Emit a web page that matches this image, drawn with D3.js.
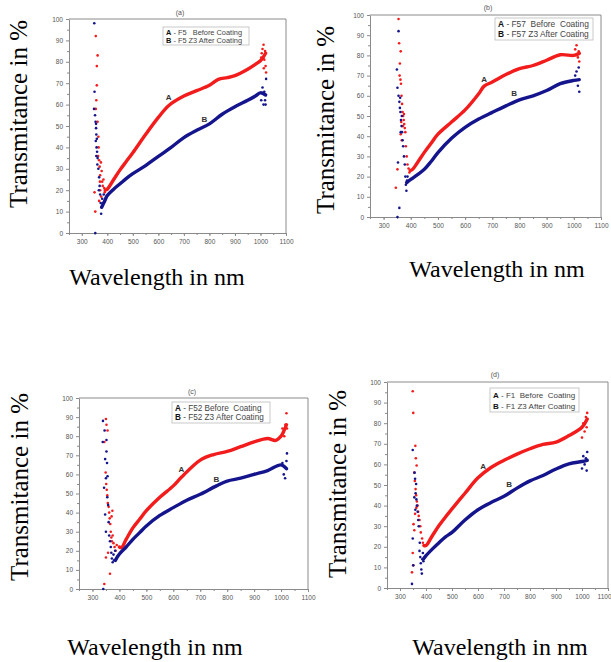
<!DOCTYPE html>
<html><head><meta charset="utf-8">
<script src="https://cdn.jsdelivr.net/npm/d3@7"></script>
<style>body{margin:0;background:#fff}svg{display:block}</style>
</head><body>
<svg id="c" width="611" height="662"></svg>
<script>
// ---------- DATA ----------
const xTicks = [300,400,500,600,700,800,900,1000,1100];
const yTicks = [0,10,20,30,40,50,60,70,80,90,100];
const panelLabels = ["(a)","(b)","(c)","(d)"];
const legendA = ["A - F5   Before Coating","A - F57  Before  Coating","A - F52 Before  Coating","A - F1  Before  Coating"];
const legendB = ["B - F5 Z3 After Coating","B - F57 Z3 After Coating","B - F52 Z3 After Coating","B - F1 Z3 After Coating"];
const yTitle = "Transmitance in %";
const xTitle = "Wavelength in nm";

// Panel (a)
const a_redCurve = [[392,20],[400,20.5],[425,25],[450,29.5],[475,33.5],[500,37.5],[550,46],[600,54],[640,59.5],[700,64],[750,66.5],[800,69],[835,71.8],[870,72.6],[900,73.5],[950,76.5],[980,78.8],[1000,80.5],[1010,82],[1020,84]];
const a_blueCurve = [[378,12],[390,15],[400,17.5],[425,20.5],[450,23],[475,25.5],[500,27.7],[550,31.5],[600,35.8],[650,40],[700,44.6],[750,48],[800,51],[850,55.5],[900,59],[950,62],[980,64],[1000,65.5],[1020,64.5]];
const a_redDots = [[355,92],[362,83],[359,78],[359,69],[357,62],[355,58],[350,19],[353,10],[362,52],[365,45],[366,40],[368,34],[370,31],[372,27],[375,33],[378,29],[380,24],[382,22],[385,25],[388,21],[390,19],[372,20],[368,15],[376,17],[364,36],[371,24],[1005,84],[1008,86],[1012,88],[1015,81],[1018,85],[1013,77],[1020,78],[1022,75],[1003,82]];
const a_blueDots = [[349,98],[350,66],[348,58],[352,55],[354,52],[356,49],[357,46],[355,43],[358,40],[360,38],[357,36],[362,35],[365,30],[368,26],[370,22],[372,18],[374,14],[376,9],[378,12],[380,16],[383,14],[386,18],[389,15],[392,16],[353,0],[356,51],[359,44],[361,32],[367,20],[1003,62],[1008,68],[1012,60],[1015,66],[1018,62],[1022,72],[1020,60]];

// Panel (b)
const b_redCurve = [[398,23],[406,23.5],[425,27],[450,32],[475,36.5],[500,41],[550,47],[600,53],[650,61],[670,64.8],[700,66.8],[750,70.5],[800,73.4],[850,75],[900,77.6],[950,80.3],[1000,80],[1020,81]];
const b_blueCurve = [[385,17],[400,18.6],[425,21],[450,23.6],[475,27.5],[500,31.9],[550,39],[600,44.4],[650,48.5],[700,51.8],[750,55],[800,58],[850,60],[900,62.6],[950,66],[1000,67.6],[1020,68]];
const b_redDots = [[355,98],[357,86],[363,82],[360,76],[359,70],[362,68],[364,66],[366,60],[368,56],[370,52],[372,50],[374,48],[376,46],[378,44],[380,42],[363,41],[365,47],[367,38],[351,23.6],[345,14.5],[385,30],[388,26],[392,24],[395,22],[382,35],[371,45],[375,51],[1005,83],[1010,85],[1015,79],[1020,77],[1018,82]];
const b_blueDots = [[355,92],[349,73],[351,64],[355,60],[358,57],[360,54],[362,52],[364,48],[366,45],[368,42],[363,42],[370,38],[372,35],[375,30],[378,26],[353,27],[380,20],[382,16],[384,13],[386,18],[388,20],[358,4.5],[351,0],[361,59],[367,50],[1005,70],[1010,72],[1015,65],[1020,62],[1018,74]];

// Panel (c)
const c_redCurve = [[400,22],[408,21.7],[425,26],[450,32],[475,36.5],[500,41],[550,48],[600,54],[630,58.5],[700,67.5],[750,70.4],[800,72],[850,74.5],[900,77],[950,78.8],[980,77.8],[1000,80],[1010,82.6],[1020,86]];
const c_blueCurve = [[385,15],[400,18.3],[425,22],[450,26],[475,29.5],[500,33],[550,38.5],[600,42.6],[650,46.5],[700,49.6],[760,54],[800,56.5],[850,58],[900,60],[950,62],[1000,65],[1020,63]];
const c_redDots = [[350,89],[352,86],[356,83],[344,77],[349,61],[351,55],[353,52],[355,49],[357,45],[360,43],[362,40],[364,37],[366,34],[368,30],[370,27],[372,25],[375,28],[378,24],[358,19],[350,16.5],[344,2.6],[365,8],[382,22],[386,20],[390,23],[371,38],[374,41],[1005,84],[1012,80],[1016,86],[1020,92],[1022,84]];
const c_blueDots = [[339,88],[345,83],[338,77],[352,72],[347,68],[350,58],[343,53],[347,39],[350,30],[355,48],[358,44],[360,35],[362,28],[365,25],[368,22],[370,19],[372,16],[375,14],[378,18],[380,15],[384,20],[388,16],[392,17],[340,0],[352,78],[354,66],[356,59],[1005,66],[1010,60],[1015,58],[1020,67],[1022,71]];

// Panel (d)
const d_redCurve = [[392,20.6],[400,20.6],[425,25.5],[450,30.3],[475,34.5],[500,38.4],[550,46],[600,53.5],[650,58.5],[700,62],[750,65],[800,67.6],[850,69.7],[900,70.8],[950,74],[1000,78],[1020,82]];
const d_blueCurve = [[390,14],[400,15.7],[425,19],[450,22],[475,24.8],[500,27],[550,33],[600,38],[650,41.5],[700,44.5],[750,48.5],[800,52],[850,54.6],[900,57.8],[950,60.3],[1000,61.4],[1020,62]];
const d_redDots = [[349,95.5],[351,85],[359,69],[361,63],[364,59.5],[355,56],[357,52],[360,48],[362,45],[365,42],[368,40],[370,37],[372,35],[375,33],[378,30],[380,27],[385,24],[349,17],[351,11],[346,7.6],[352,31],[355,28],[388,22],[358,36],[363,39],[1000,73],[1005,80],[1010,76],[1015,83],[1020,85],[1018,78]];
const d_blueDots = [[349,67],[356,56],[362,50.5],[358,53],[360,46],[363,43],[365,40],[368,37],[370,33],[372,30],[349,24],[351,11],[346,2],[375,18],[378,15],[380,12],[382,9],[384,7],[386,14],[388,17],[390,13],[376,22],[355,44],[359,38],[1000,58],[1005,64],[1010,60],[1015,63],[1020,66],[1018,57]];

// Annotation label positions (data coords)
const annotA = [[640,62],[670,67],[630,61],[620,58]];
const annotB = [[780,52],[780,60],[760,56],[720,49]];

// ---------- LAYOUT ----------
const layout = [
  {l:69, r:286, t:19, b:233, yTx:27, yTy:114, xTx:157, xTy:285, legend:{x:163,y:27,w:86,h:18,fs:7.4}, lab:[180,15]},
  {l:370,r:601, t:15, b:217, yTx:334,yTy:120, xTx:497, xTy:277, legend:{x:495,y:18,w:98,h:22,fs:8.4}, lab:[488,10]},
  {l:79, r:308, t:398,b:589, yTx:28, yTy:487, xTx:155, xTy:655, legend:{x:172,y:402,w:98,h:21,fs:8.2}, lab:[192,394]},
  {l:387,r:608, t:382,b:588, yTx:346,yTy:484, xTx:500, xTy:655, legend:{x:490,y:388,w:89,h:24,fs:8.0}, lab:[495,377]}
];
const series = [
  [a_redCurve,a_blueCurve,a_redDots,a_blueDots],
  [b_redCurve,b_blueCurve,b_redDots,b_blueDots],
  [c_redCurve,c_blueCurve,c_redDots,c_blueDots],
  [d_redCurve,d_blueCurve,d_redDots,d_blueDots]
];
const RED = "#f21c1c", BLUE = "#14148c", AX = "#8a8a8a", TXT = "#555";

const svg = d3.select("#c");
layout.forEach((L,i)=>{
  const [rc,bc,rd,bd] = series[i];
  const x = d3.scaleLinear().domain([250,1100]).range([L.l,L.r]);
  const y = d3.scaleLinear().domain([0,100]).range([L.b,L.t]);
  const g = svg.append("g");

  g.append("line").attr("x1",L.l).attr("x2",L.r).attr("y1",L.t).attr("y2",L.t).attr("stroke",AX).attr("stroke-width",1);
  g.append("line").attr("x1",L.r).attr("x2",L.r).attr("y1",L.t).attr("y2",L.b).attr("stroke",AX).attr("stroke-width",1);

  const xMinor = d3.range(250,1101,50);
  const yMinor = d3.range(5,100,10);
  const gxm = g.append("g").attr("transform",`translate(0,${L.b})`)
    .call(d3.axisBottom(x).tickValues(xMinor).tickSize(2).tickFormat(""));
  const gym = g.append("g").attr("transform",`translate(${L.l},0)`)
    .call(d3.axisLeft(y).tickValues(yMinor).tickSize(2).tickFormat(""));
  [gxm,gym].forEach(s=>{s.select(".domain").remove(); s.selectAll("line").attr("stroke",AX);});

  const gx = g.append("g").attr("transform",`translate(0,${L.b})`)
    .call(d3.axisBottom(x).tickValues(xTicks).tickFormat(d3.format("d")).tickSize(3).tickSizeOuter(0).tickPadding(3));
  const gy = g.append("g").attr("transform",`translate(${L.l},0)`)
    .call(d3.axisLeft(y).tickValues(yTicks).tickFormat(d3.format("d")).tickSize(3).tickSizeOuter(0).tickPadding(3));
  [gx,gy].forEach(s=>{
    s.select(".domain").attr("stroke",AX);
    s.selectAll("line").attr("stroke",AX);
    s.selectAll("text").attr("fill",TXT).style("font-family","Arial, 'Liberation Sans', sans-serif").style("font-size","6.5px");
  });
  if (i===3) gx.selectAll(".tick text").filter(d=>d===1100).attr("text-anchor","end").attr("dx","3");

  const line = d3.line().x(d=>x(d[0])).y(d=>y(d[1])).curve(d3.curveCatmullRom.alpha(0.5));
  g.append("path").datum(rc).attr("d",line).attr("fill","none").attr("stroke",RED).attr("stroke-width",3.4).attr("stroke-linecap","round");
  g.selectAll(null).data(rd).join("circle").attr("cx",d=>x(d[0])).attr("cy",d=>y(d[1])).attr("r",1.3).attr("fill",RED);
  g.append("path").datum(bc).attr("d",line).attr("fill","none").attr("stroke",BLUE).attr("stroke-width",3.4).attr("stroke-linecap","round");
  g.selectAll(null).data(bd).join("circle").attr("cx",d=>x(d[0])).attr("cy",d=>y(d[1])).attr("r",1.3).attr("fill",BLUE);

  g.append("text").attr("x",x(annotA[i][0])).attr("y",y(annotA[i][1])).text("A")
    .attr("fill","#333").style("font-family","Arial, 'Liberation Sans', sans-serif").style("font-size","8px").style("font-weight","bold").attr("text-anchor","middle");
  g.append("text").attr("x",x(annotB[i][0])).attr("y",y(annotB[i][1])).text("B")
    .attr("fill","#333").style("font-family","Arial, 'Liberation Sans', sans-serif").style("font-size","8px").style("font-weight","bold").attr("text-anchor","middle");

  const Lg = L.legend;
  g.append("rect").attr("x",Lg.x).attr("y",Lg.y).attr("width",Lg.w).attr("height",Lg.h).attr("fill","#fff").attr("stroke","#bbb").attr("stroke-width",0.8);
  [[legendA[i],0],[legendB[i],1]].forEach(([t,k])=>{
    const tx = g.append("text").attr("x",Lg.x+3).attr("y",Lg.y+Lg.h*(k===0?0.42:0.88))
      .attr("fill","#444").attr("xml:space","preserve").style("white-space","pre")
      .style("font-family","Arial, 'Liberation Sans', sans-serif").style("font-size",Lg.fs+"px");
    tx.append("tspan").text(t[0]).style("font-weight","bold").attr("fill","#111");
    tx.append("tspan").text(t.slice(1));
  });

  g.append("text").attr("x",L.lab[0]).attr("y",L.lab[1]).text(panelLabels[i]).attr("text-anchor","middle")
    .attr("fill",TXT).style("font-family","Arial, 'Liberation Sans', sans-serif").style("font-size","7px");

  g.append("text").attr("transform",`translate(${L.yTx},${L.yTy}) rotate(-90)`).attr("text-anchor","middle")
    .text(yTitle).attr("fill","#000").style("font-family","'Liberation Serif','Times New Roman',serif").style("font-size","25px");
  g.append("text").attr("x",L.xTx).attr("y",L.xTy).attr("text-anchor","middle")
    .text(xTitle).attr("fill","#000").style("font-family","'Liberation Serif','Times New Roman',serif").style("font-size","24px");
});
</script>
</body></html>
